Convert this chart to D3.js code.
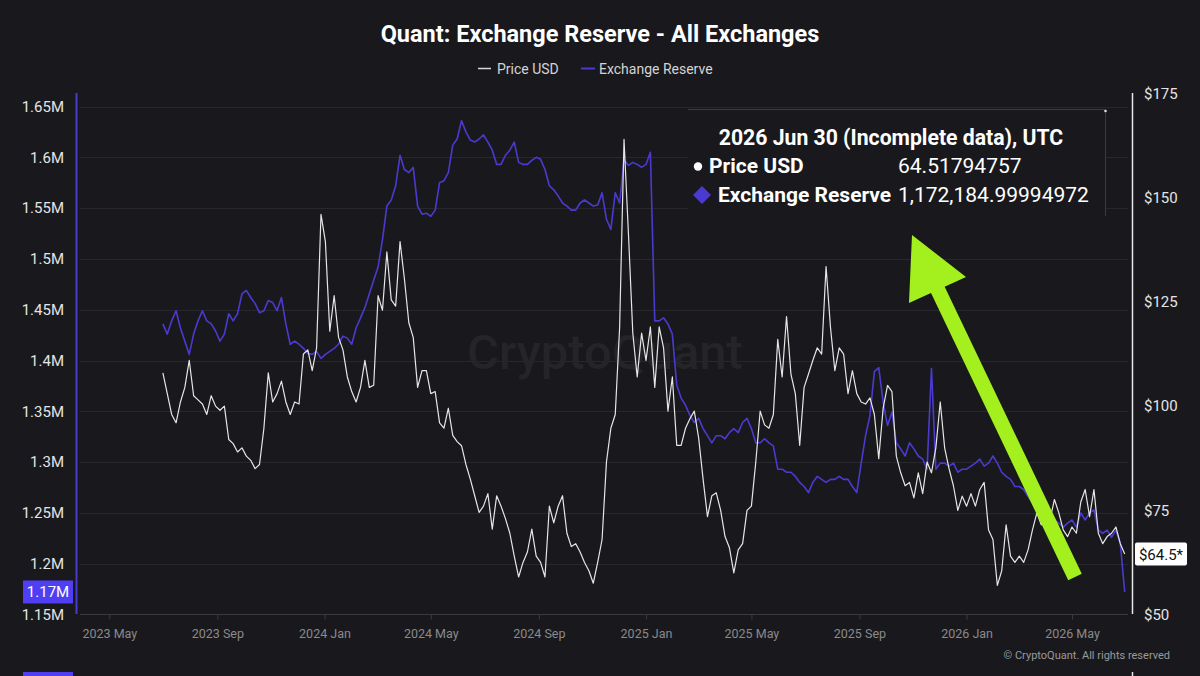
<!DOCTYPE html>
<html>
<head>
<meta charset="utf-8">
<script src="https://cdn.jsdelivr.net/npm/d3@7"></script>
<style>
html, body { margin: 0; padding: 0; background: #19191d; }
svg { display: block; font-family: Roboto, "Noto Sans", sans-serif; }
</style>
</head>
<body>
<svg id="chart" width="1200" height="676"></svg>
<script>
// Daily series sampled every 5 days, 2023 Jul 01 -> 2026 Jun 30
const startDate = '2023-07-01';
const stepDays = 5;

const priceUSD = [
  108, 103, 98, 96, 101, 104.5, 111, 102.5, 101.5, 100.5,
  98, 102.5, 100, 99, 100, 92, 91, 89, 90, 88,
  87, 85, 86, 94.7, 108, 101, 103, 106, 101, 98,
  101, 100.5, 112.5, 113.5, 108.5, 114, 146, 139.5, 118, 126.5,
  116.5, 113.5, 107, 103.5, 101, 104.5, 111, 104.5, 105, 126.5,
  123, 137, 125.5, 124, 139.5, 130.5, 120, 116.5, 104.5, 108.5,
  108.5, 103, 103.5, 96, 94.7, 99.5, 93, 91.5, 90.5, 86,
  82.5, 78.5, 74.5, 76, 79, 70.5, 78.5, 76, 73, 69.5,
  64, 59, 62.5, 65, 70.5, 64, 62.5, 59, 76, 72,
  76, 78.5, 69.5, 66.3, 67, 65, 62.5, 60.5, 57.5, 62.5,
  68, 86.6, 94.7, 98, 119, 164, 141.5, 117.5, 107, 117.5,
  111, 119, 104.5, 119, 114, 98.8, 107, 90.6, 90.6, 94.7,
  97, 98.8, 92.3, 82.5, 73.5, 78.5, 79.2, 75, 68.7, 66,
  60, 65.5, 67, 75, 76, 86.6, 98.8, 95.5, 94.7, 98,
  116, 107, 121.5, 107.7, 103, 90.6, 104.5, 107.7, 111, 114,
  112.5, 133.5, 119, 108.5, 114, 112.5, 103, 108.5, 103, 101,
  100.5, 102, 98, 87.4, 99.5, 105, 103.5, 88, 84, 80.9,
  81.7, 78, 84, 79, 86.6, 84, 90, 101, 90, 85,
  80.9, 75, 78.4, 76, 79, 76, 80, 81.7, 70.3, 68,
  57, 60.5, 71.5, 64, 62.5, 64, 62.5, 65.5, 70.3, 74.4,
  71.5, 74.4, 72.8, 77.6, 74.4, 70.3, 68.7, 71, 69.5, 77,
  80, 73.5, 80, 69.5, 67, 68.7, 69.5, 71, 67, 64.51794757
];

// Exchange reserve, in millions of QNT
const reserveM = [
  1.436, 1.426, 1.439, 1.449, 1.432, 1.419, 1.406, 1.426, 1.439, 1.449,
  1.439, 1.436, 1.429, 1.419, 1.426, 1.446, 1.439, 1.446, 1.4655, 1.469,
  1.462, 1.456, 1.447, 1.449, 1.459, 1.457, 1.449, 1.462, 1.436, 1.416,
  1.419, 1.416, 1.412, 1.407, 1.406, 1.409, 1.402, 1.406, 1.409, 1.412,
  1.416, 1.424, 1.422, 1.416, 1.432, 1.442, 1.452, 1.4655, 1.479, 1.492,
  1.519, 1.552, 1.558, 1.572, 1.602, 1.588, 1.585, 1.590, 1.552, 1.544,
  1.545, 1.542, 1.548, 1.575, 1.577, 1.585, 1.612, 1.618, 1.636, 1.625,
  1.617, 1.615, 1.618, 1.622, 1.615, 1.607, 1.593, 1.593, 1.602, 1.607,
  1.615, 1.595, 1.593, 1.593, 1.597, 1.600, 1.598, 1.588, 1.572, 1.568,
  1.562, 1.555, 1.552, 1.548, 1.548, 1.555, 1.558, 1.555, 1.552, 1.553,
  1.565, 1.539, 1.529, 1.565, 1.555, 1.598, 1.592, 1.595, 1.593, 1.590,
  1.593, 1.605, 1.439, 1.439, 1.442, 1.436, 1.426, 1.376, 1.363, 1.356,
  1.346, 1.339, 1.343, 1.333, 1.326, 1.319, 1.326, 1.326, 1.323, 1.329,
  1.333, 1.329, 1.339, 1.343, 1.333, 1.319, 1.319, 1.323, 1.319, 1.316,
  1.293, 1.293, 1.290, 1.290, 1.286, 1.280, 1.276, 1.270, 1.280, 1.286,
  1.283, 1.280, 1.283, 1.283, 1.286, 1.283, 1.283, 1.276, 1.270, 1.299,
  1.326, 1.346, 1.389, 1.393, 1.359, 1.336, 1.349, 1.319, 1.313, 1.306,
  1.319, 1.313, 1.306, 1.303, 1.293, 1.392, 1.293, 1.299, 1.299, 1.296,
  1.299, 1.290, 1.293, 1.293, 1.296, 1.299, 1.303, 1.296, 1.299, 1.306,
  1.299, 1.290, 1.286, 1.283, 1.276, 1.276, 1.273, 1.266, 1.260, 1.253,
  1.253, 1.246, 1.240, 1.243, 1.240, 1.236, 1.240, 1.243, 1.236, 1.250,
  1.243, 1.250, 1.253, 1.233, 1.230, 1.233, 1.226, 1.233, 1.220, 1.17218499994972
];

const reserveTicks = [1.15, 1.2, 1.25, 1.3, 1.35, 1.4, 1.45, 1.5, 1.55, 1.6, 1.65];
const priceTicks = [50, 75, 100, 125, 150, 175];
const monthTicks = ['2023-05-01', '2023-09-01', '2024-01-01', '2024-05-01', '2024-09-01',
  '2025-01-01', '2025-05-01', '2025-09-01', '2026-01-01', '2026-05-01'];

const tooltipTitle = '2026 Jun 30 (Incomplete data), UTC';
const tooltipPrice = '64.51794757';
const tooltipReserve = '1,172,184.99994972';

// colours
const bg = '#19191d', purple = '#4a3ad0', purpleBright = '#4f3ef2', lime = '#a3f01e';

const svg = d3.select('#chart');
svg.append('rect').attr('width', 1200).attr('height', 676).attr('fill', bg);

const start = new Date(startDate + 'T00:00:00Z');
const dates = priceUSD.map((_, i) => d3.utcDay.offset(start, i * stepDays));

// Scales
const x = d3.scaleUtc()
    .domain([new Date('2023-05-01T00:00:00Z'), new Date('2026-05-01T00:00:00Z')])
    .range([109.3, 1072]);
const yL = d3.scaleLinear().domain([1.15, 1.65]).range([614.5, 106.5]);
const yR = d3.scaleLinear().domain([50, 175]).range([614.5, 93.6]);

// Grid lines
svg.append('g').selectAll('line').data(reserveTicks.slice(1)).enter().append('line')
    .attr('x1', 80).attr('x2', 1128)
    .attr('y1', d => Math.round(yL(d)) + 0.5).attr('y2', d => Math.round(yL(d)) + 0.5)
    .attr('stroke', '#27272d').attr('stroke-width', 1);

// Watermark
svg.append('text')
    .attr('x', 605).attr('y', 369).attr('text-anchor', 'middle')
    .style('font-size', '49px').style('font-weight', 500)
    .attr('fill', '#242429').text('CryptoQuant');

// Title and legend
svg.append('text').attr('x', 600).attr('y', 42).attr('text-anchor', 'middle')
    .style('font-size', '23.5px').style('font-weight', 700).attr('fill', '#ffffff')
    .text('Quant: Exchange Reserve - All Exchanges');

const legend = svg.append('g');
legend.append('line').attr('x1', 478).attr('x2', 491).attr('y1', 68.5).attr('y2', 68.5)
    .attr('stroke', '#d8d8d8').attr('stroke-width', 1.5);
legend.append('text').attr('x', 497).attr('y', 73.5).style('font-size', '14px')
    .attr('fill', '#d4d4d4').text('Price USD');
legend.append('line').attr('x1', 581).attr('x2', 595).attr('y1', 68.5).attr('y2', 68.5)
    .attr('stroke', purple).attr('stroke-width', 2);
legend.append('text').attr('x', 599).attr('y', 73.5).style('font-size', '14px')
    .attr('fill', '#d4d4d4').text('Exchange Reserve');

// Axes
const leftAxis = svg.append('g').attr('transform', 'translate(68,0)')
    .call(d3.axisLeft(yL).tickValues(reserveTicks).tickFormat(d => d + 'M').tickSize(0).tickPadding(4));
const rightAxis = svg.append('g').attr('transform', 'translate(1140,0)')
    .call(d3.axisRight(yR).tickValues(priceTicks).tickFormat(d => '$' + d).tickSize(0).tickPadding(4));
[leftAxis, rightAxis].forEach(a => {
    a.select('.domain').remove();
    a.selectAll('text').attr('fill', '#e4e4e4').style('font-size', '15px')
        .style('font-family', 'Roboto, sans-serif');
});

const bottomAxis = svg.append('g').attr('transform', 'translate(0,614.5)')
    .call(d3.axisBottom(x).tickValues(monthTicks.map(d => new Date(d + 'T00:00:00Z')))
        .tickFormat(d3.utcFormat('%Y %b')).tickSize(5).tickPadding(10));
bottomAxis.select('.domain').remove();
bottomAxis.selectAll('line').attr('stroke', '#3a3a40');
bottomAxis.selectAll('text').attr('fill', '#8a8a8a').style('font-size', '12.5px')
    .style('font-family', 'Roboto, sans-serif');

svg.append('line').attr('x1', 80).attr('x2', 1128).attr('y1', 614.5).attr('y2', 614.5)
    .attr('stroke', '#3a3a40');
svg.append('line').attr('x1', 76.5).attr('x2', 76.5).attr('y1', 93).attr('y2', 614)
    .attr('stroke', purple).attr('stroke-width', 2);
svg.append('line').attr('x1', 1132.5).attr('x2', 1132.5).attr('y1', 93).attr('y2', 614)
    .attr('stroke', '#e8e8e8').attr('stroke-width', 1.5);

// Series lines
const reserveLine = d3.line().x((d, i) => x(dates[i])).y(d => yL(d));
const priceLine = d3.line().x((d, i) => x(dates[i])).y(d => yR(d));

svg.append('path').datum(reserveM).attr('d', reserveLine)
    .attr('fill', 'none').attr('stroke', purple).attr('stroke-width', 1.6)
    .attr('stroke-linejoin', 'round');
svg.append('path').datum(priceUSD).attr('d', priceLine)
    .attr('fill', 'none').attr('stroke', '#e6e6e6').attr('stroke-width', 1.2)
    .attr('stroke-linejoin', 'round');

// Last value labels
const lastR = reserveM[reserveM.length - 1];
const lastP = priceUSD[priceUSD.length - 1];
svg.append('rect').attr('x', 23).attr('y', yL(lastR) - 11.5).attr('width', 50).attr('height', 23)
    .attr('fill', purpleBright);
svg.append('text').attr('x', 48).attr('y', yL(lastR) + 5.5).attr('text-anchor', 'middle')
    .style('font-size', '15px').attr('fill', '#ffffff').text(d3.format('.2f')(lastR) + 'M');
svg.append('rect').attr('x', 1135).attr('y', yR(lastP) - 11.5).attr('width', 52).attr('height', 23)
    .attr('rx', 2).attr('fill', '#ffffff');
svg.append('text').attr('x', 1161).attr('y', yR(lastP) + 5.5).attr('text-anchor', 'middle')
    .style('font-size', '15px').attr('fill', '#111').text('$' + d3.format('.1f')(lastP) + '*');

// Tooltip box
const tip = svg.append('g');
tip.append('rect').attr('x', 688).attr('y', 109).attr('width', 418).attr('height', 107).attr('fill', bg);
tip.append('line').attr('x1', 688).attr('x2', 1106).attr('y1', 109.5).attr('y2', 109.5)
    .attr('stroke', '#3a3a42');
tip.append('line').attr('x1', 1105.5).attr('x2', 1105.5).attr('y1', 109).attr('y2', 216)
    .attr('stroke', '#3a3a42');
tip.append('circle').attr('cx', 1105.5).attr('cy', 111).attr('r', 1.3).attr('fill', '#ddd');
tip.append('text').attr('x', 891).attr('y', 145).attr('text-anchor', 'middle')
    .style('font-size', '21.2px').style('font-weight', 700).attr('fill', '#fff').text(tooltipTitle);
tip.append('circle').attr('cx', 698).attr('cy', 166.5).attr('r', 4.2).attr('fill', '#fff');
tip.append('text').attr('x', 709).attr('y', 173).style('font-size', '21px').style('font-weight', 700)
    .attr('fill', '#fff').text('Price USD');
tip.append('text').attr('x', 898).attr('y', 173).style('font-size', '21px')
    .attr('fill', '#fff').text(tooltipPrice);
tip.append('path').attr('d', 'M702,186 L711,195 L702,204 L693,195 Z').attr('fill', purple);
tip.append('text').attr('x', 718).attr('y', 201.5).style('font-size', '21px').style('font-weight', 700)
    .attr('fill', '#fff').text('Exchange Reserve');
tip.append('text').attr('x', 898).attr('y', 201.5).style('font-size', '21px')
    .attr('fill', '#fff').text(tooltipReserve);

// Green annotation arrow
svg.append('line').attr('x1', 936).attr('y1', 286).attr('x2', 1075).attr('y2', 577)
    .attr('stroke', lime).attr('stroke-width', 15);
svg.append('path').attr('d', 'M912,235 L966,277 L909,303 Z').attr('fill', lime);

// Copyright
svg.append('text').attr('x', 1170).attr('y', 659).attr('text-anchor', 'end')
    .style('font-size', '11px').attr('fill', '#9a9a9a').text('© CryptoQuant. All rights reserved');

// Edge of the next panel peeking in at the bottom
svg.append('rect').attr('x', 23).attr('y', 672).attr('width', 50).attr('height', 4).attr('fill', purpleBright);
svg.append('line').attr('x1', 1132.5).attr('x2', 1132.5).attr('y1', 672).attr('y2', 676)
    .attr('stroke', '#e8e8e8').attr('stroke-width', 1.5);
</script>
</body>
</html>
